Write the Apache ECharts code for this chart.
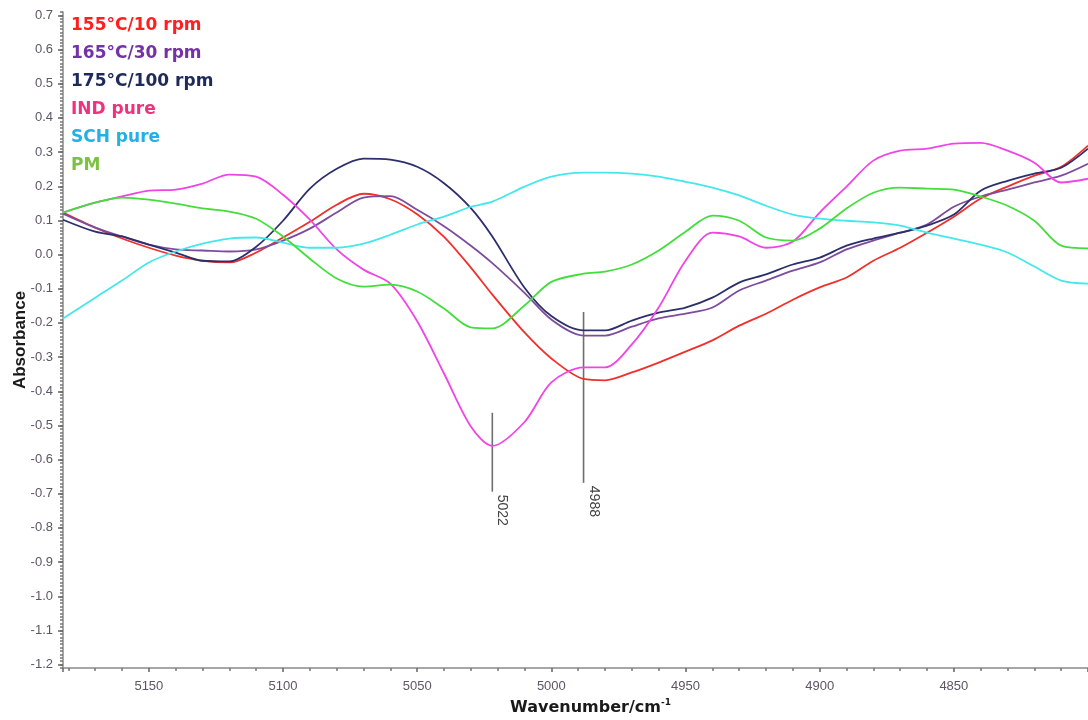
<!DOCTYPE html>
<html>
<head>
<meta charset="utf-8">
<script src="https://cdn.jsdelivr.net/npm/echarts@6/dist/echarts.min.js"></script>
<style>
  html, body { margin: 0; padding: 0; background: #ffffff; }
  #chart { width: 1088px; height: 720px; }
</style>
</head>
<body>
<div id="chart"></div>
<script>
// NIR second-derivative spectra, 5180–4800 cm-1
const wavenumber = [5182, 5170, 5160, 5150, 5140, 5130, 5120, 5110, 5100, 5090,
                    5080, 5070, 5060, 5050, 5040, 5030, 5022, 5010, 5000, 4988,
                    4980, 4970, 4960, 4950, 4940, 4930, 4920, 4910, 4900, 4890,
                    4880, 4870, 4860, 4850, 4840, 4830, 4820, 4810, 4800];

const seriesNames = ['155°C/10 rpm', '165°C/30 rpm', '175°C/100 rpm', 'IND pure', 'SCH pure', 'PM'];

const abs155 = [0.123, 0.079, 0.047, 0.020, -0.003, -0.018, -0.023, 0.006, 0.050, 0.096,
                0.146, 0.178, 0.162, 0.118, 0.052, -0.038, -0.117, -0.228, -0.304, -0.364,
                -0.368, -0.345, -0.316, -0.284, -0.251, -0.208, -0.173, -0.132, -0.096, -0.067,
                -0.018, 0.020, 0.064, 0.111, 0.164, 0.199, 0.231, 0.257, 0.319];

const abs165 = [0.120, 0.079, 0.053, 0.029, 0.015, 0.012, 0.009, 0.015, 0.041, 0.076,
                0.123, 0.167, 0.171, 0.131, 0.083, 0.026, -0.025, -0.112, -0.190, -0.237,
                -0.237, -0.211, -0.187, -0.173, -0.155, -0.105, -0.076, -0.047, -0.023, 0.015,
                0.041, 0.064, 0.088, 0.140, 0.170, 0.190, 0.211, 0.231, 0.266];

const abs175 = [0.102, 0.067, 0.053, 0.029, 0.006, -0.018, -0.020, 0.023, 0.099, 0.193,
                0.251, 0.281, 0.278, 0.257, 0.209, 0.136, 0.053, -0.097, -0.180, -0.222,
                -0.222, -0.193, -0.170, -0.155, -0.126, -0.082, -0.058, -0.029, -0.009, 0.026,
                0.047, 0.064, 0.085, 0.117, 0.187, 0.216, 0.237, 0.254, 0.310];

const absIND = [0.123, 0.152, 0.170, 0.187, 0.190, 0.208, 0.234, 0.228, 0.175, 0.102,
                0.015, -0.044, -0.085, -0.195, -0.348, -0.503, -0.560, -0.490, -0.374, -0.330,
                -0.330, -0.263, -0.155, -0.018, 0.064, 0.053, 0.020, 0.038, 0.123, 0.199,
                0.275, 0.304, 0.310, 0.325, 0.327, 0.304, 0.269, 0.211, 0.222];

const absSCH = [-0.187, -0.126, -0.076, -0.023, 0.009, 0.032, 0.047, 0.050, 0.035, 0.020,
                0.020, 0.032, 0.058, 0.088, 0.111, 0.140, 0.155, 0.199, 0.228, 0.240,
                0.240, 0.237, 0.228, 0.213, 0.196, 0.173, 0.143, 0.117, 0.105, 0.099,
                0.094, 0.085, 0.064, 0.047, 0.029, 0.006, -0.035, -0.076, -0.085];

const absPM = [0.123, 0.152, 0.167, 0.161, 0.149, 0.135, 0.126, 0.105, 0.053, -0.012,
               -0.070, -0.094, -0.088, -0.108, -0.158, -0.213, -0.216, -0.149, -0.080, -0.056,
               -0.050, -0.029, 0.012, 0.067, 0.114, 0.099, 0.050, 0.041, 0.076, 0.135,
               0.181, 0.196, 0.193, 0.190, 0.170, 0.143, 0.099, 0.026, 0.018];

// marked peak positions (cm-1) and the extent of their marker lines (absorbance)
const peakPositions = [5022, 4988];
const peakLineTop = [-0.463, -0.168];
const peakLineBottom = [-0.694, -0.668];

const yTickValues = [-1.2, -1.1, -1.0, -0.9, -0.8, -0.7, -0.6, -0.5, -0.4, -0.3,
                     -0.2, -0.1, 0.0, 0.1, 0.2, 0.3, 0.4, 0.5, 0.6, 0.7];
const xTickValues = [5150, 5100, 5050, 5000, 4950, 4900, 4850];

const lineColors = ['#f0302a', '#7d4c9e', '#2c2f6c', '#f044e6', '#44e8ea', '#44de3c'];
const legendColors = ['#ff1f1f', '#7432a6', '#1f2a5c', '#f0327e', '#22b0e6', '#7cc242'];

const seriesValues = [abs155, abs165, abs175, absIND, absSCH, absPM];

const yMin = -1.21, yMax = 0.71;
const tickColor = '#5c5666';
const axisColor = '#8a8a8a';

const chart = echarts.init(document.getElementById('chart'), null, { renderer: 'canvas' });

const lineSeries = seriesNames.map((name, i) => ({
  name: name,
  type: 'line',
  xAxisIndex: 0,
  yAxisIndex: 0,
  data: wavenumber.map((w, k) => [w, seriesValues[i][k]]),
  showSymbol: false,
  smooth: 0.3,
  lineStyle: { color: lineColors[i], width: 1.8 },
  itemStyle: { color: lineColors[i] },
  silent: true,
  z: 3
}));

const peakSeries = {
  type: 'custom',
  xAxisIndex: 0,
  yAxisIndex: 0,
  silent: true,
  z: 2,
  data: peakPositions.map((p, i) => [p, peakLineTop[i], peakLineBottom[i]]),
  renderItem: function (params, api) {
    const top = api.coord([api.value(0), api.value(1)]);
    const bot = api.coord([api.value(0), api.value(2)]);
    return {
      type: 'group',
      children: [
        {
          type: 'line',
          shape: { x1: top[0], y1: top[1], x2: bot[0], y2: bot[1] },
          style: { stroke: '#6e6e6e', lineWidth: 1.6 }
        },
        {
          type: 'text',
          x: bot[0] + 10,
          y: bot[1] + 3,
          rotation: -Math.PI / 2,
          style: {
            text: String(api.value(0)),
            fontFamily: 'Arial, Liberation Sans, sans-serif',
            fontSize: 14,
            fill: '#444444',
            align: 'left',
            verticalAlign: 'middle'
          }
        }
      ]
    };
  }
};

chart.setOption({
  animation: false,
  backgroundColor: '#ffffff',
  grid: { left: 63, right: 0, top: 12, bottom: 52, containLabel: false, outerBoundsMode: 'none' },
  legend: {
    orient: 'vertical',
    left: 66,
    top: 16,
    padding: 0,
    icon: 'rect',
    itemWidth: 0,
    itemHeight: 0,
    itemGap: 8,
    selectedMode: false,
    textStyle: {
      fontFamily: 'DejaVu Sans',
      fontWeight: 'bold',
      fontSize: 17,
      lineHeight: 20
    },
    data: seriesNames.map((n, i) => ({ name: n, textStyle: { color: legendColors[i] } }))
  },
  xAxis: {
    type: 'value',
    inverse: true,
    min: 4800,
    max: 5182,
    interval: 50,
    name: 'Wavenumber/cm{sup|-1}',
    nameLocation: 'middle',
    nameGap: 30,
    nameMoveOverlap: false,
    nameTextStyle: {
      fontFamily: 'DejaVu Sans',
      fontWeight: 'bold',
      fontSize: 16,
      color: '#1a1a1a',
      padding: [0, 0, 0, 30],
      lineHeight: 20,
      rich: {
        sup: {
          fontFamily: 'DejaVu Sans',
          fontWeight: 'bold',
          fontSize: 9,
          color: '#1a1a1a',
          verticalAlign: 'top',
          lineHeight: 12
        }
      }
    },
    axisLine: { show: true, onZero: false, lineStyle: { color: axisColor, width: 1.5 } },
    axisTick: { show: true, length: 4, lineStyle: { color: '#666666', width: 1.5 } },
    minorTick: { show: true, splitNumber: 5, length: 3, lineStyle: { color: '#777777', width: 1.5 } },
    splitLine: { show: false },
    minorSplitLine: { show: false },
    axisLabel: {
      margin: 12,
      fontFamily: 'Arial, Liberation Sans, sans-serif',
      fontSize: 13,
      color: tickColor,
      formatter: function (v) { return xTickValues.indexOf(Math.round(v)) >= 0 && Math.abs(v - Math.round(v)) < 1e-6 ? String(Math.round(v)) : ''; }
    }
  },
  yAxis: [
    {
      // fine 0.01 ticks and the axis line
      type: 'value',
      min: yMin,
      max: yMax,
      interval: 0.01,
      position: 'left',
      axisLine: { show: true, onZero: false, lineStyle: { color: axisColor, width: 1.5 } },
      axisTick: { show: true, length: 3, lineStyle: { color: '#777777', width: 1.5 } },
      axisLabel: { show: false },
      splitLine: { show: false }
    },
    {
      // labelled 0.1 ticks
      type: 'value',
      min: yMin,
      max: yMax,
      position: 'left',
      name: 'Absorbance',
      nameLocation: 'middle',
      nameGap: 34,
      nameMoveOverlap: false,
      nameTextStyle: {
        fontFamily: 'Arial, Liberation Sans, sans-serif',
        fontWeight: 'bold',
        fontSize: 17,
        color: '#1a1a1a'
      },
      axisLine: { show: false },
      axisTick: { show: true, length: 5, customValues: yTickValues, lineStyle: { color: '#666666', width: 1.5 } },
      axisLabel: {
        customValues: yTickValues,
        margin: 10,
        fontFamily: 'Arial, Liberation Sans, sans-serif',
        fontSize: 13,
        color: tickColor,
        formatter: function (v) { return v.toFixed(1); }
      },
      splitLine: { show: false }
    }
  ],
  series: lineSeries.concat([peakSeries])
});
</script>
</body>
</html>
